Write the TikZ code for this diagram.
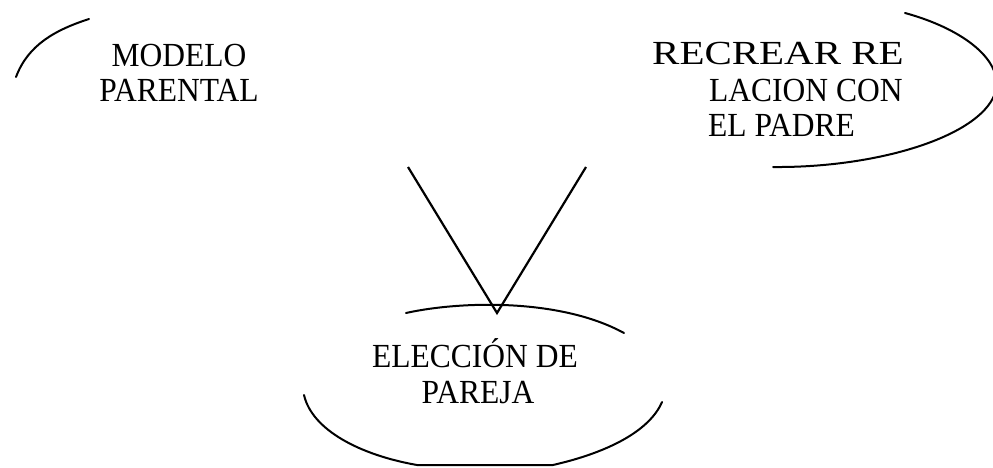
\documentclass[tikz,border=0pt]{standalone}
\usepackage{fontspec}
\setmainfont{Liberation Serif}
\begin{document}
\begin{tikzpicture}[x=1pt,y=-1pt,
  curve/.style={line width=2pt,line cap=round},
  lbl/.style={inner sep=0pt,font=\fontsize{31.5}{35}\selectfont}]
\useasboundingbox (0,0) rectangle (993,468);
% top-left arc
\draw[curve] (16,77) .. controls (28,45) and (55,30) .. (89,19);
\node[lbl,anchor=base] (m1) at (179,67) {\scalebox{1}[1.07]{MODELO}};
\node[lbl,anchor=base] (m2) at (179,102) {\scalebox{1}[1.07]{PARENTAL}};
% right arc
\draw[curve] (905,13) .. controls (960,28) and (1002,58) .. (996,90)
  .. controls (985,135) and (880,168) .. (773,167);
\node[lbl,anchor=base west] (r1) at (652,65) {\scalebox{1.3}[1.07]{RECREAR RE}};
\node[lbl,anchor=base west] (r2) at (709,102) {\scalebox{1}[1.07]{LACION CON}};
\node[lbl,anchor=base west] (r3) at (708,136) {\scalebox{1}[1.07]{EL PADRE}};
% V lines
\coordinate (va) at (408,167);
\coordinate (vb) at (586,167);
\coordinate (vc) at (497,313);
\draw[line width=2.2pt,line join=miter] (va) -- (vc) -- (vb);
% bottom ellipse
\draw[curve] (406,313) .. controls (460,301) and (560,298) .. (624,333);
\draw[curve] (304,395) .. controls (312,430) and (360,455) .. (417,465)
  -- (553,465) .. controls (610,452) and (650,430) .. (662,402);
\node[lbl,anchor=base] (e1) at (475,367) {\scalebox{1}[1.07]{ELECCIÓN DE}};
\node[lbl,anchor=base] (e2) at (478,403) {\scalebox{1}[1.07]{PAREJA}};
\end{tikzpicture}
\end{document}
